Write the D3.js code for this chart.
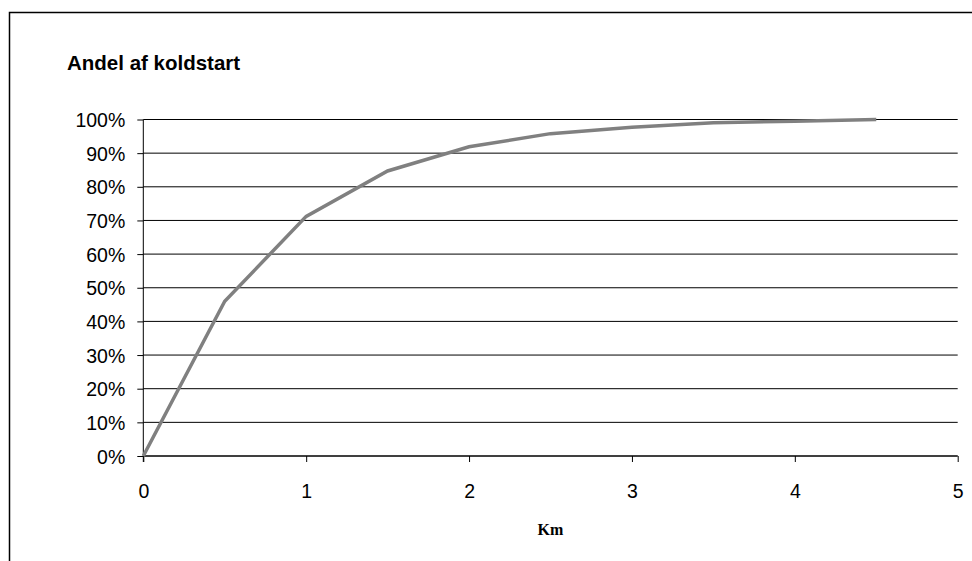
<!DOCTYPE html>
<html>
<head>
<meta charset="utf-8">
<script src="https://cdn.jsdelivr.net/npm/d3@7"></script>
<style>
  html, body { margin: 0; padding: 0; background: #fff; }
  svg { display: block; }
</style>
</head>
<body>
<svg id="chart" width="972" height="561"></svg>
<script>
// Distance driven (km) and cumulative share of cold start
const km = [0, 0.5, 1, 1.5, 2, 2.5, 3, 3.5, 4, 4.5];
const share = [0, 0.46, 0.712, 0.847, 0.919, 0.958, 0.977, 0.99, 0.995, 1.0];

const yTicks = [0, 0.1, 0.2, 0.3, 0.4, 0.5, 0.6, 0.7, 0.8, 0.9, 1.0];
const xTicks = [0, 1, 2, 3, 4, 5];

const titleText = "Andel af koldstart";
const xTitleText = "Km";

(function () {
  const svg = d3.select("#chart");

  // Outer chart frame
  svg.append("rect")
    .attr("x", 9.5).attr("y", 12.5)
    .attr("width", 1000).attr("height", 600)
    .attr("fill", "none").attr("stroke", "#000").attr("stroke-width", 1.5);

  const plotLeft = 143.3, plotRight = 957.7, plotTop = 119.5, plotBottom = 456;

  const x = d3.scaleLinear().domain([0, 5]).range([plotLeft, plotRight]);
  const y = d3.scaleLinear().domain([0, 1]).range([plotBottom, plotTop]);

  // Horizontal gridlines
  svg.append("g")
    .selectAll("line")
    .data(yTicks)
    .join("line")
    .attr("x1", plotLeft).attr("x2", plotRight)
    .attr("y1", d => y(d)).attr("y2", d => y(d))
    .attr("stroke", "#000").attr("stroke-width", 1);

  // Y axis
  const yAxis = d3.axisLeft(y)
    .tickValues(yTicks)
    .tickFormat(d3.format(".0%"))
    .tickSize(6)
    .tickPadding(12);
  const gy = svg.append("g").attr("transform", `translate(${plotLeft},0)`).call(yAxis);
  gy.select(".domain").attr("stroke", "#000").attr("d", `M0,${plotTop}V${plotBottom + 6}`);
  gy.selectAll(".tick line").attr("stroke", "#000");
  gy.selectAll(".tick text")
    .attr("font-family", "Liberation Sans, Arial, sans-serif")
    .attr("font-size", 19.5)
    .attr("fill", "#000")
    .attr("dy", "0.36em");

  // X axis
  const xAxis = d3.axisBottom(x)
    .tickValues(xTicks)
    .tickFormat(d3.format("d"))
    .tickSize(6)
    .tickPadding(22);
  const gx = svg.append("g").attr("transform", `translate(0,${plotBottom})`).call(xAxis);
  gx.select(".domain").attr("stroke", "#000").attr("d", `M${plotLeft},0H${plotRight}`);
  gx.selectAll(".tick line").attr("stroke", "#000");
  gx.selectAll(".tick text")
    .attr("font-family", "Liberation Sans, Arial, sans-serif")
    .attr("font-size", 19.5)
    .attr("fill", "#000");

  // Data line
  const line = d3.line()
    .x((d, i) => x(km[i]))
    .y(d => y(d));
  svg.append("path")
    .datum(share)
    .attr("d", line)
    .attr("fill", "none")
    .attr("stroke", "#808080")
    .attr("stroke-width", 3.5)
    .attr("stroke-linejoin", "miter");

  // Chart title
  svg.append("text")
    .attr("x", 67).attr("y", 69.5)
    .attr("font-family", "Liberation Sans, Arial, sans-serif")
    .attr("font-weight", "bold")
    .attr("font-size", 20.5)
    .attr("fill", "#000")
    .text(titleText);

  // Axis title
  svg.append("text")
    .attr("x", (plotLeft + plotRight) / 2).attr("y", 535)
    .attr("text-anchor", "middle")
    .attr("font-family", "Liberation Serif, Times New Roman, serif")
    .attr("font-weight", "bold")
    .attr("font-size", 16)
    .attr("fill", "#000")
    .text(xTitleText);
})();
</script>
</body>
</html>
